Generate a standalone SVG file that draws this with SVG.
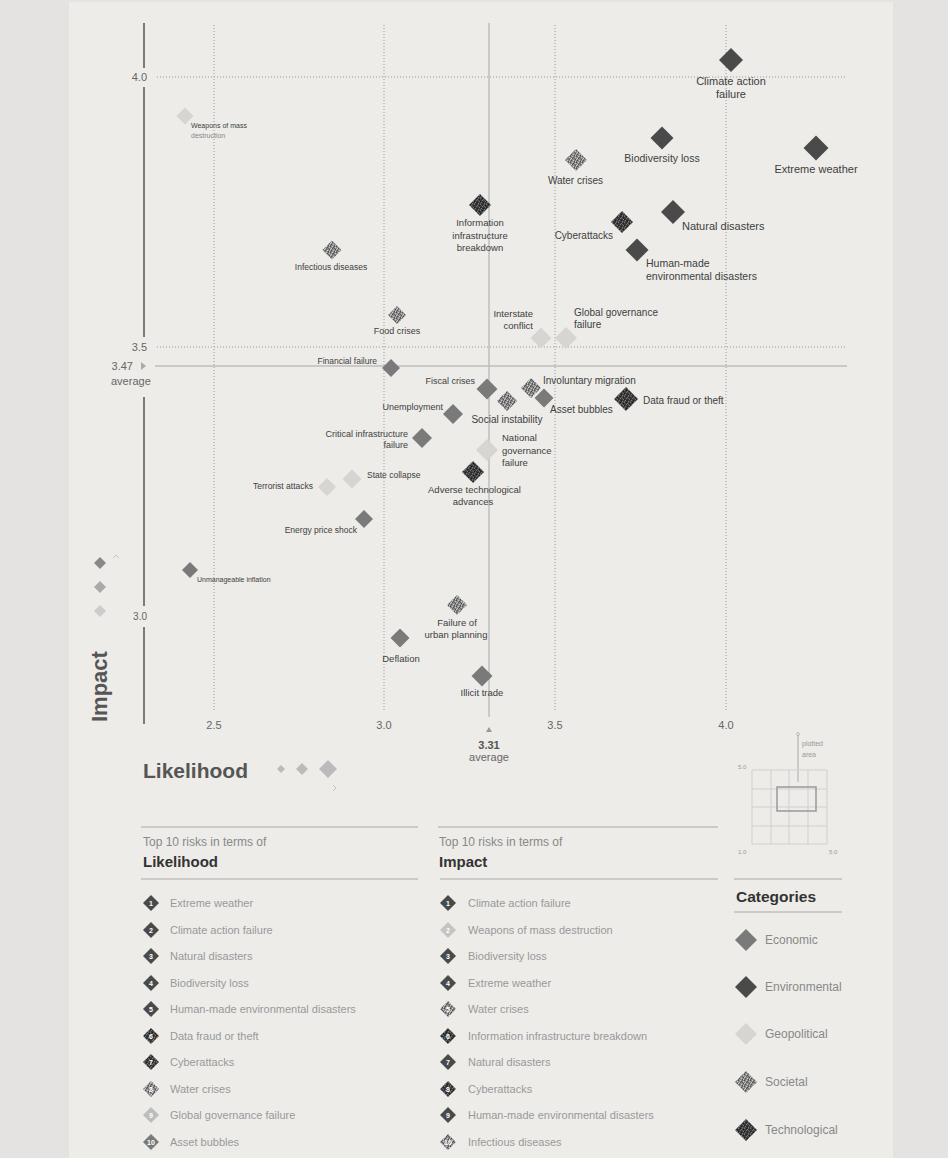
<svg xmlns="http://www.w3.org/2000/svg" width="948" height="1158" viewBox="0 0 948 1158">
<defs>
<pattern id="soc" width="6" height="6" patternUnits="userSpaceOnUse"><rect width="6" height="6" fill="#8a8a8a"/><path d="M0,0h1v1h-1zM3,1h1v1h-1zM5,3h1v1h-1zM1,4h1v1h-1zM4,5h1v1h-1zM2,2h1v1h-1z" fill="#505050"/><path d="M2,0h1v1h-1zM5,1h1v1h-1zM0,3h1v1h-1zM3,4h1v1h-1zM1,2h1v1h-1zM5,5h1v1h-1z" fill="#c9c9c7"/><path d="M4,0h1v1h-1zM0,5h1v1h-1zM4,2h1v1h-1z" fill="#6a6a6a"/></pattern>
<pattern id="tech" width="6" height="6" patternUnits="userSpaceOnUse"><rect width="6" height="6" fill="#3a3a3a"/><path d="M0,0h1v1h-1zM3,1h1v1h-1zM5,3h1v1h-1zM1,4h1v1h-1zM4,5h1v1h-1zM2,2h1v1h-1z" fill="#777"/><path d="M2,0h1v1h-1zM5,1h1v1h-1zM0,3h1v1h-1zM3,4h1v1h-1z" fill="#1c1c1c"/><path d="M4,0h1v1h-1zM0,5h1v1h-1zM4,2h1v1h-1z" fill="#5a5a5a"/></pattern>
<style>
text{font-family:"Liberation Sans",Arial,sans-serif;}
.econ{fill:#7a7a7a;}
.env{fill:#4a4a4a;}
.geo{fill:#d6d5d2;}
.soc{fill:url(#soc);}
.tech{fill:url(#tech);}
.lb{fill:#404040;}
.grid{stroke:#9a9a9a;stroke-width:1;stroke-dasharray:1 2;fill:none;}
.avg{stroke:#bdbdbd;stroke-width:1.5;fill:none;}
.ax{stroke:#555;stroke-width:1.5;fill:none;}
.tick{fill:#666;font-size:11px;}
.li{fill:#999;font-size:11px;}
.num{fill:#fff;font-size:7px;font-weight:bold;text-anchor:middle;}
.cat{fill:#888;font-size:12px;}
.hr{stroke:#aaa;stroke-width:1;}
.mini{stroke:#cfcfcf;stroke-width:1;fill:none;}
</style>
</defs>
<rect width="948" height="1158" fill="#e4e3e2"/>
<rect x="69" y="2" width="824" height="1156" fill="#edece9"/>

<g id="axes">
<path class="grid" d="M214,25V712M384,25V712M555,25V712M726,25V712M157,77H845M157,347H845"/>
<path class="avg" d="M489,23V717M155,366H847"/>
<path class="ax" d="M144,23V68M144,87V337M144,397V606M144,627V724"/>
<text class="tick" x="147" y="81" text-anchor="end">4.0</text>
<text class="tick" x="147" y="351" text-anchor="end">3.5</text>
<text class="tick" x="133" y="370" text-anchor="end" fill="#555">3.47</text>
<path d="M141,362L146,366L141,370Z" fill="#aaa"/>
<text class="tick" x="111" y="385" fill="#777">average</text>
<text class="tick" x="147" y="620" text-anchor="end" style="font-size:10px">3.0</text>
<text class="tick" x="214" y="729" text-anchor="middle">2.5</text>
<text class="tick" x="384" y="729" text-anchor="middle">3.0</text>
<text class="tick" x="555" y="729" text-anchor="middle">3.5</text>
<text class="tick" x="726" y="729" text-anchor="middle">4.0</text>
<path d="M486,732L489,727L492,732Z" fill="#999"/>
<text x="489" y="749" text-anchor="middle" style="font-size:11px;font-weight:bold;fill:#555">3.31</text>
<text x="489" y="761" text-anchor="middle" style="font-size:11px;fill:#666">average</text>
<text transform="translate(107,722) rotate(-90)" style="font-size:22px;font-weight:bold;fill:#555">Impact</text>
<path d="M100,557L106,563L100,569L94,563Z" fill="#888"/>
<path d="M100,581L106,587L100,593L94,587Z" fill="#aaa"/>
<path d="M100,605L106,611L100,617L94,611Z" fill="#ccc"/>
<path d="M113,558L116,555L119,558" stroke="#bbb" fill="none" stroke-width="0.8"/>
<text x="143" y="778" style="font-size:21px;font-weight:bold;fill:#555">Likelihood</text>
<path d="M281,765L285,769L281,773L277,769Z" fill="#bbb"/>
<path d="M302,763L308,769L302,775L296,769Z" fill="#bbb"/>
<path d="M328,760L337,769L328,778L319,769Z" fill="#bbb"/>
<path d="M333,785L336,788L333,791" stroke="#bbb" fill="none" stroke-width="0.8"/>
</g>

<g id="connectors">
<line x1="798" y1="735" x2="798" y2="782" stroke="#aaa" stroke-width="1"/>
<circle cx="798" cy="734" r="1.5" fill="none" stroke="#aaa" stroke-width="0.7"/>
</g>

<g id="n-climate"><path class="env" d="M731,48L743,60L731,72L719,60Z"/><text class="lb" x="731" y="84.5" text-anchor="middle" font-size="11">Climate action</text><text class="lb" x="731" y="98" text-anchor="middle" font-size="11">failure</text></g>
<g id="n-biodiversity"><path class="env" d="M662,126.5L673.5,138L662,149.5L650.5,138Z"/><text class="lb" x="662" y="161.5" text-anchor="middle" font-size="10.5">Biodiversity loss</text></g>
<g id="n-extreme"><path class="env" d="M816,135.5L828.5,148L816,160.5L803.5,148Z"/><text class="lb" x="816" y="173" text-anchor="middle" font-size="11">Extreme weather</text></g>
<g id="n-water"><path class="soc" d="M576,149L587,160L576,171L565,160Z"/><text class="lb" x="575.5" y="183.5" text-anchor="middle" font-size="10">Water crises</text></g>
<g id="n-infoinfra"><path class="tech" d="M480,194L491,205L480,216L469,205Z"/><text class="lb" x="480" y="226" text-anchor="middle" font-size="9.5">Information</text><text class="lb" x="480" y="238.5" text-anchor="middle" font-size="9.5">infrastructure</text><text class="lb" x="480" y="251" text-anchor="middle" font-size="9.5">breakdown</text></g>
<g id="n-cyber"><path class="tech" d="M622,211L633,222L622,233L611,222Z"/><text class="lb" x="613" y="238.5" text-anchor="end" font-size="10">Cyberattacks</text></g>
<g id="n-natural"><path class="env" d="M673,200L685,212L673,224L661,212Z"/><text class="lb" x="682" y="229.5" font-size="11">Natural disasters</text></g>
<g id="n-humanmade"><path class="env" d="M637,238.5L648.5,250L637,261.5L625.5,250Z"/><text class="lb" x="646" y="267" font-size="10.5">Human-made</text><text class="lb" x="646" y="280" font-size="10.5">environmental disasters</text></g>
<g id="n-weapons"><path class="geo" d="M185,107.5L193.5,116L185,124.5L176.5,116Z"/><text class="lb" x="191" y="127.5" font-size="7">Weapons of mass</text><text x="191" y="137.5" font-size="7" fill="#888">destruction</text></g>
<g id="n-infectious"><path class="soc" d="M332,240.5L341.5,250L332,259.5L322.5,250Z"/><text class="lb" x="331" y="269.5" text-anchor="middle" font-size="8.5">Infectious diseases</text></g>
<g id="n-food"><path class="soc" d="M397,306L406,315L397,324L388,315Z"/><text class="lb" x="397" y="334" text-anchor="middle" font-size="9">Food crises</text></g>
<g id="n-interstate"><path class="geo" d="M541,327.5L551.5,338L541,348.5L530.5,338Z"/><text class="lb" x="533" y="316.5" text-anchor="end" font-size="9.5">Interstate</text><text class="lb" x="533" y="328.5" text-anchor="end" font-size="9.5">conflict</text></g>
<g id="n-globalgov"><path class="geo" d="M566,327L577,338L566,349L555,338Z"/><text class="lb" x="574" y="315.5" font-size="10">Global governance</text><text class="lb" x="574" y="327.5" font-size="10">failure</text></g>
<g id="n-financial"><path class="econ" d="M391,359L400,368L391,377L382,368Z"/><text class="lb" x="377" y="364" text-anchor="end" font-size="8.5">Financial failure</text></g>
<g id="n-fiscal"><path class="econ" d="M487,378.5L497.5,389L487,399.5L476.5,389Z"/><text class="lb" x="475" y="383.5" text-anchor="end" font-size="9">Fiscal crises</text></g>
<g id="n-involuntary"><path class="soc" d="M531,378L541,388L531,398L521,388Z"/><text class="lb" x="543" y="383.5" font-size="10">Involuntary migration</text></g>
<g id="n-asset"><path class="econ" d="M544,388.5L553.5,398L544,407.5L534.5,398Z"/><text class="lb" x="550" y="412.5" font-size="10">Asset bubbles</text></g>
<g id="n-social"><path class="soc" d="M507,391L517,401L507,411L497,401Z"/><text class="lb" x="507" y="422.5" text-anchor="middle" font-size="10">Social instability</text></g>
<g id="n-datafraud"><path class="tech" d="M626,387L638,399L626,411L614,399Z"/><text class="lb" x="643" y="403.5" font-size="10">Data fraud or theft</text></g>
<g id="n-unemployment"><path class="econ" d="M453,404L463,414L453,424L443,414Z"/><text class="lb" x="443" y="410" text-anchor="end" font-size="9">Unemployment</text></g>
<g id="n-critical"><path class="econ" d="M422,428L432,438L422,448L412,438Z"/><text class="lb" x="408" y="437" text-anchor="end" font-size="9">Critical infrastructure</text><text class="lb" x="408" y="448" text-anchor="end" font-size="9">failure</text></g>
<g id="n-nationalgov"><path class="geo" d="M487,439L498,450L487,461L476,450Z"/><text class="lb" x="502" y="440.5" font-size="9.5">National</text><text class="lb" x="502" y="453.5" font-size="9.5">governance</text><text class="lb" x="502" y="465.5" font-size="9.5">failure</text></g>
<g id="n-adverse"><path class="tech" d="M473,461L484,472L473,483L462,472Z"/><text class="lb" x="474.5" y="492.5" text-anchor="middle" font-size="9.5">Adverse technological</text><text class="lb" x="473" y="504.5" text-anchor="middle" font-size="9.5">advances</text></g>
<g id="n-state"><path class="geo" d="M352,469.5L361.5,479L352,488.5L342.5,479Z"/><text class="lb" x="367" y="478" font-size="8.5">State collapse</text></g>
<g id="n-terrorist"><path class="geo" d="M327,478L336,487L327,496L318,487Z"/><text class="lb" x="313" y="489" text-anchor="end" font-size="8.5">Terrorist attacks</text></g>
<g id="n-energy"><path class="econ" d="M364,510L373,519L364,528L355,519Z"/><text class="lb" x="357" y="533" text-anchor="end" font-size="8.5">Energy price shock</text></g>
<g id="n-inflation"><path class="econ" d="M190,562L198,570L190,578L182,570Z"/><text class="lb" x="197" y="581.5" font-size="7">Unmanageable inflation</text></g>
<g id="n-urban"><path class="soc" d="M457,595L467,605L457,615L447,605Z"/><text class="lb" x="457" y="626" text-anchor="middle" font-size="9.5">Failure of</text><text class="lb" x="456" y="638" text-anchor="middle" font-size="9.5">urban planning</text></g>
<g id="n-deflation"><path class="econ" d="M400,628.5L409.5,638L400,647.5L390.5,638Z"/><text class="lb" x="401" y="662" text-anchor="middle" font-size="9.5">Deflation</text></g>
<g id="n-illicit"><path class="econ" d="M482,665.5L492.5,676L482,686.5L471.5,676Z"/><text class="lb" x="482" y="695.5" text-anchor="middle" font-size="9.5">Illicit trade</text></g>

<g id="minimap">
<path class="mini" d="M752,770H827V844H752ZM771,770V844M789,770V844M808,770V844M752,789H827M752,807H827M752,826H827"/>
<rect x="777" y="787" width="39" height="24" fill="none" stroke="#999" stroke-width="1.5"/>
<text x="802" y="746" font-size="7" fill="#999">plotted</text>
<text x="802" y="757" font-size="7" fill="#999">area</text>
<text x="738" y="769" font-size="6" fill="#999">5.0</text>
<text x="738" y="854" font-size="6" fill="#999">1.0</text>
<text x="829" y="854" font-size="6" fill="#999">5.0</text>
</g>

<g id="list-likelihood">
<line class="hr" x1="141" y1="827" x2="418" y2="827"/>
<text x="143" y="846" font-size="12" fill="#888">Top 10 risks in terms of</text>
<text x="143" y="867" font-size="15" font-weight="bold" fill="#333">Likelihood</text>
<line class="hr" x1="141" y1="879" x2="418" y2="879"/>
<path class="env" d="M151,895L159,903L151,911L143,903Z"/><text class="num" x="151" y="905.5">1</text><text class="li" x="170" y="907">Extreme weather</text>
<path class="env" d="M151,922L159,930L151,938L143,930Z"/><text class="num" x="151" y="932.5">2</text><text class="li" x="170" y="934">Climate action failure</text>
<path class="env" d="M151,948L159,956L151,964L143,956Z"/><text class="num" x="151" y="958.5">3</text><text class="li" x="170" y="960">Natural disasters</text>
<path class="env" d="M151,975L159,983L151,991L143,983Z"/><text class="num" x="151" y="985.5">4</text><text class="li" x="170" y="987">Biodiversity loss</text>
<path class="env" d="M151,1001L159,1009L151,1017L143,1009Z"/><text class="num" x="151" y="1011.5">5</text><text class="li" x="170" y="1013">Human-made environmental disasters</text>
<path class="tech" d="M151,1028L159,1036L151,1044L143,1036Z"/><text class="num" x="151" y="1038.5">6</text><text class="li" x="170" y="1040">Data fraud or theft</text>
<path class="tech" d="M151,1054L159,1062L151,1070L143,1062Z"/><text class="num" x="151" y="1064.5">7</text><text class="li" x="170" y="1066">Cyberattacks</text>
<path class="soc" d="M151,1081L159,1089L151,1097L143,1089Z"/><text class="num" x="151" y="1091.5">8</text><text class="li" x="170" y="1093">Water crises</text>
<path fill="#bdbdbb" d="M151,1107L159,1115L151,1123L143,1115Z"/><text class="num" x="151" y="1117.5">9</text><text class="li" x="170" y="1119">Global governance failure</text>
<path class="econ" d="M151,1134L159,1142L151,1150L143,1142Z"/><text class="num" x="151" y="1144.5">10</text><text class="li" x="170" y="1146">Asset bubbles</text>
</g>

<g id="list-impact">
<line class="hr" x1="438" y1="827" x2="718" y2="827"/>
<text x="439" y="846" font-size="12" fill="#888">Top 10 risks in terms of</text>
<text x="439" y="867" font-size="15" font-weight="bold" fill="#333">Impact</text>
<line class="hr" x1="440" y1="879" x2="718" y2="879"/>
<path class="env" d="M448,895L456,903L448,911L440,903Z"/><text class="num" x="448" y="905.5">1</text><text class="li" x="468" y="907">Climate action failure</text>
<path fill="#c4c4c2" d="M448,922L456,930L448,938L440,930Z"/><text class="num" x="448" y="932.5">2</text><text class="li" x="468" y="934">Weapons of mass destruction</text>
<path class="env" d="M448,948L456,956L448,964L440,956Z"/><text class="num" x="448" y="958.5">3</text><text class="li" x="468" y="960">Biodiversity loss</text>
<path class="env" d="M448,975L456,983L448,991L440,983Z"/><text class="num" x="448" y="985.5">4</text><text class="li" x="468" y="987">Extreme weather</text>
<path class="soc" d="M448,1001L456,1009L448,1017L440,1009Z"/><text class="num" x="448" y="1011.5">5</text><text class="li" x="468" y="1013">Water crises</text>
<path class="tech" d="M448,1028L456,1036L448,1044L440,1036Z"/><text class="num" x="448" y="1038.5">6</text><text class="li" x="468" y="1040">Information infrastructure breakdown</text>
<path class="env" d="M448,1054L456,1062L448,1070L440,1062Z"/><text class="num" x="448" y="1064.5">7</text><text class="li" x="468" y="1066">Natural disasters</text>
<path class="tech" d="M448,1081L456,1089L448,1097L440,1089Z"/><text class="num" x="448" y="1091.5">8</text><text class="li" x="468" y="1093">Cyberattacks</text>
<path class="env" d="M448,1107L456,1115L448,1123L440,1115Z"/><text class="num" x="448" y="1117.5">9</text><text class="li" x="468" y="1119">Human-made environmental disasters</text>
<path class="soc" d="M448,1134L456,1142L448,1150L440,1142Z"/><text class="num" x="448" y="1144.5">10</text><text class="li" x="468" y="1146">Infectious diseases</text>
</g>

<g id="categories">
<line class="hr" x1="734" y1="879" x2="842" y2="879"/>
<text x="736" y="902" font-size="15.5" font-weight="bold" fill="#333">Categories</text>
<line class="hr" x1="734" y1="912" x2="842" y2="912"/>
<path class="econ" d="M746,929L757,940L746,951L735,940Z"/><text class="cat" x="765" y="944">Economic</text>
<path class="env" d="M746,976L757,987L746,998L735,987Z"/><text class="cat" x="765" y="991">Environmental</text>
<path class="geo" d="M746,1023L757,1034L746,1045L735,1034Z"/><text class="cat" x="765" y="1038">Geopolitical</text>
<path class="soc" d="M746,1071L757,1082L746,1093L735,1082Z"/><text class="cat" x="765" y="1086">Societal</text>
<path class="tech" d="M746,1119L757,1130L746,1141L735,1130Z"/><text class="cat" x="765" y="1134">Technological</text>
</g>
</svg>
